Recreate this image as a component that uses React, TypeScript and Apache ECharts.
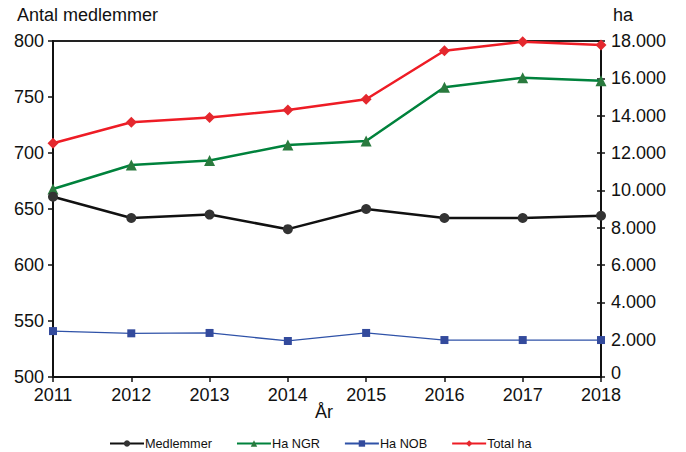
import React, { useEffect, useRef } from "react";
import * as echarts from "echarts";

const years = ["2011", "2012", "2013", "2014", "2015", "2016", "2017", "2018"];
const medlemmer = [661, 642, 645, 632, 650, 642, 642, 644];
const haNGR = [10070, 11360, 11600, 12430, 12640, 15520, 16030, 15870];
const haNOB = [2460, 2340, 2360, 1930, 2360, 1980, 1980, 1980];
const totalHa = [12520, 13650, 13900, 14300, 14880, 17480, 17960, 17790];

const FONT = "'Liberation Sans', Arial, sans-serif";

export default function App() {
  const ref = useRef<HTMLDivElement>(null);
  useEffect(() => {
    if (!ref.current) return;
    const chart = echarts.init(ref.current, undefined, { renderer: "svg" });
    const fmt = (v: number) => (v === 0 ? "{z|0}" : (v / 1000).toFixed(3));
    chart.setOption({
      animation: false,
      backgroundColor: "#ffffff",
      textStyle: { fontFamily: FONT },
      grid: {
        left: 53,
        right: 85,
        top: 41,
        bottom: 75,
        show: true,
        borderColor: "#222",
        borderWidth: 2,
        outerBoundsMode: "none",
      },
      graphic: [
        { type: "text", left: 17, top: 6, style: { text: "Antal medlemmer", font: `18px ${FONT}`, fill: "#111" } },
        { type: "text", left: 613, top: 6, style: { text: "ha", font: `18px ${FONT}`, fill: "#111" } },
        { type: "text", left: 315, top: 403, style: { text: "År", font: `18px ${FONT}`, fill: "#111" } },
      ],
      legend: {
        left: 104,
        top: 432,
        itemWidth: 34,
        itemHeight: 8,
        itemGap: 24,
        textStyle: { fontFamily: FONT, fontSize: 12.7, color: "#111", padding: [0, 0, 0, -4] },
        data: ["Medlemmer", "Ha NGR", "Ha NOB", "Total ha"],
      },
      xAxis: {
        type: "category",
        data: years,
        boundaryGap: false,
        axisLine: { lineStyle: { color: "#111", width: 2 } },
        axisTick: { show: true, length: 5, lineStyle: { color: "#111", width: 1.5 } },
        axisLabel: { fontFamily: FONT, fontSize: 18, lineHeight: 15, color: "#111", margin: 10 },
        splitLine: { show: false },
      },
      yAxis: [
        {
          type: "value",
          min: 500,
          max: 800,
          interval: 50,
          position: "left",
          axisLine: { show: true, lineStyle: { color: "#111", width: 2 } },
          axisTick: { show: true, length: 5, lineStyle: { color: "#111", width: 1.5 } },
          axisLabel: { fontFamily: FONT, fontSize: 18, color: "#111", margin: 9 },
          splitLine: { show: false },
        },
        {
          type: "value",
          min: 0,
          max: 18000,
          interval: 2000,
          position: "right",
          axisLine: { show: true, lineStyle: { color: "#111", width: 2 } },
          axisTick: { show: true, length: 4, lineStyle: { color: "#111", width: 1.5 } },
          axisLabel: {
            fontFamily: FONT,
            fontSize: 18,
            lineHeight: 15,
            color: "#111",
            margin: 10,
            formatter: fmt,
            rich: {
              z: { fontFamily: FONT, fontSize: 18, lineHeight: 15, color: "#111", padding: [0, 0, 8, 0] },
            },
          },
          splitLine: { show: false },
        },
        {
          type: "value",
          min: 0,
          max: 18000,
          interval: 2000,
          position: "right",
          axisLine: { show: false },
          axisTick: { show: true, inside: true, length: 4, lineStyle: { color: "#111", width: 1.5 } },
          axisLabel: { show: false },
          splitLine: { show: false },
        },
      ],
      series: [
        {
          name: "Medlemmer",
          type: "line",
          yAxisIndex: 0,
          data: medlemmer,
          symbol: "circle",
          symbolSize: 10,
          lineStyle: { color: "#111", width: 2.5 },
          itemStyle: { color: "#333" },
          z: 4,
        },
        {
          name: "Ha NGR",
          type: "line",
          yAxisIndex: 1,
          data: haNGR,
          symbol: "triangle",
          symbolSize: 11,
          lineStyle: { color: "#00823c", width: 2.5 },
          itemStyle: { color: "#2a7a3e" },
          z: 3,
        },
        {
          name: "Ha NOB",
          type: "line",
          yAxisIndex: 1,
          data: haNOB,
          symbol: "rect",
          symbolSize: 8,
          lineStyle: { color: "#2f52a8", width: 1.3 },
          itemStyle: { color: "#334a9c" },
          z: 2,
        },
        {
          name: "Total ha",
          type: "line",
          yAxisIndex: 1,
          data: totalHa,
          symbol: "diamond",
          symbolSize: 11,
          lineStyle: { color: "#ee1c25", width: 2.5 },
          itemStyle: { color: "#e4282e" },
          z: 5,
        },
      ],
    });
    return () => chart.dispose();
  }, []);
  return (
    <div
      ref={ref}
      style={{ position: "fixed", left: 0, top: 0, width: 686, height: 452 }}
    />
  );
}
